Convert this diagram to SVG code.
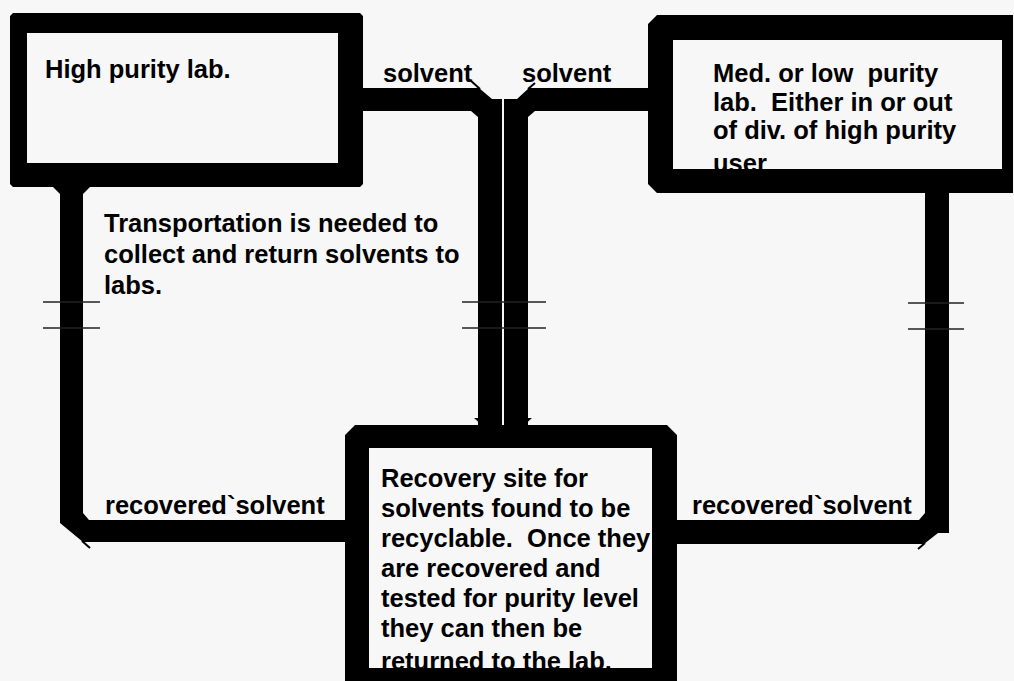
<svg xmlns="http://www.w3.org/2000/svg" width="1014" height="681" viewBox="0 0 1014 681">
<style>
.t{font-family:"Liberation Sans",Arial,sans-serif;font-weight:bold;font-size:25.5px;fill:#000}
.frame{fill:#000;fill-rule:evenodd}
.bar{fill:#000}
.barb{stroke:#000;stroke-width:2;fill:none}
.tick{stroke:#222;stroke-width:1.3;fill:none}
</style>
<rect width="1014" height="681" fill="#f7f7f7"/>
<g id="connectors">
<polygon class="bar" points="363,88 479,88 492,99 502,99 502,427 478,427 478,111 363,111"/>
<line class="barb" x1="470" y1="80" x2="480" y2="89"/>
<polygon class="bar" points="471,111 478,111 478,117"/>
<polygon class="bar" points="648,88 529,88 517,99 504,99 504,427 528,427 528,111 648,111"/>
<line class="barb" x1="535" y1="83" x2="528" y2="89"/>
<polygon class="bar" points="535,111 528,111 528,117"/>
<polygon class="bar" points="474,418 502,418 502,427 484,427"/>
<polygon class="bar" points="532,418 504,418 504,427 522,427"/>
<polygon class="bar" points="83,187 83,520 347,520 347,542 83,542 60,523 60,187"/>
<line class="barb" x1="82" y1="541" x2="90" y2="548"/>
<polygon class="bar" points="83,513 83,520 89,520"/>
<polygon class="bar" points="53,187 90,187 83,194 60,194"/>
<polygon class="bar" points="925,193 949,193 949,533 938,533 924,544 675,544 675,520 925,520"/>
<line class="barb" x1="925" y1="543" x2="918" y2="549"/>
<polygon class="bar" points="925,513 925,520 919,520"/>
<line class="tick" x1="43" y1="302" x2="100" y2="302"/>
<line class="tick" x1="43" y1="328" x2="100" y2="328"/>
<line class="tick" x1="462" y1="302" x2="546" y2="302"/>
<line class="tick" x1="462" y1="328" x2="546" y2="328"/>
<line class="tick" x1="908" y1="303" x2="964" y2="303"/>
<line class="tick" x1="908" y1="329" x2="964" y2="329"/>
<text class="t" x="383" y="82">solvent</text>
<text class="t" x="522" y="82">solvent</text>
<text class="t" x="105" y="514">recovered`solvent</text>
<text class="t" x="692" y="514">recovered`solvent</text>
</g>
<g id="high-purity-lab">
<text class="t" x="45" y="78">High purity lab.</text>
<path class="frame" d="M13,13 H360 L363,16 V184 L360,187 H13 L10,184 V16 Z M27,33 V163 H338 V33 Z"/>
</g>
<g id="med-low-purity-lab">
<text class="t" x="713" xml:space="preserve"><tspan x="713" y="82">Med. or low  purity</tspan><tspan x="713" y="110.7">lab.  Either in or out</tspan><tspan x="713" y="139.4">of div. of high purity</tspan><tspan x="713" y="172">user</tspan></text>
<path class="frame" d="M657,15 H1013 V193 H657 L648,184 V24 Z M673,40 V169 H1002 V40 Z"/>
</g>
<g id="transport-note">
<text class="t"><tspan x="104" y="232">Transportation is needed to</tspan><tspan x="104" y="263">collect and return solvents to</tspan><tspan x="104" y="294">labs.</tspan></text>
</g>
<g id="recovery-site">
<text class="t" x="381" xml:space="preserve"><tspan x="381" y="487">Recovery site for</tspan><tspan x="381" y="517">solvents found to be</tspan><tspan x="381" y="547">recyclable.  Once they</tspan><tspan x="381" y="577">are recovered and</tspan><tspan x="381" y="607">tested for purity level</tspan><tspan x="381" y="637">they can then be</tspan><tspan x="381" y="670">returned to the lab.</tspan></text>
<path class="frame" d="M355,425 H667 L677,435 V690 H345 V435 Z M369,448 V668 H652 V448 Z"/>
</g>
</svg>
